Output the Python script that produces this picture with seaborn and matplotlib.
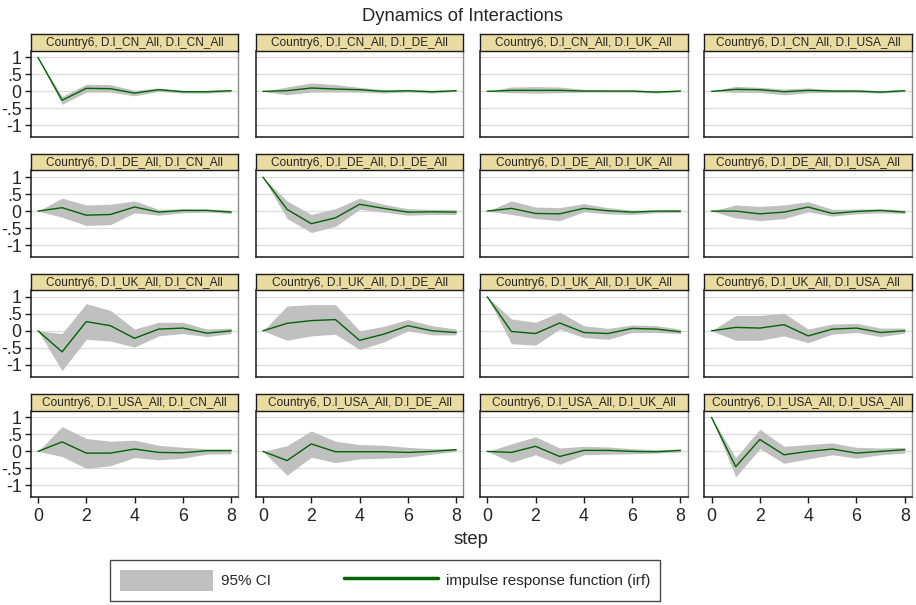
import matplotlib
matplotlib.use("Agg")
import matplotlib.pyplot as plt
from matplotlib.patches import Patch
from matplotlib.lines import Line2D
import numpy as np
import pandas as pd
import seaborn as sns

sns.set_style("white")
plt.rcParams["font.family"] = ["Liberation Sans", "DejaVu Sans"]

# ---- data -----------------------------------------------------------------
steps = [0, 1, 2, 3, 4, 5, 6, 7, 8]
variables = ["D.l_CN_All", "D.l_DE_All", "D.l_UK_All", "D.l_USA_All"]
model = "Country6"

# impulse (row) x response (column), row-major order
irf_values = [
    [1, -0.26, 0.09, 0.08, -0.05, 0.05, -0.01, -0.01, 0.02],
    [0, 0.02, 0.10, 0.07, 0.05, 0.00, 0.02, -0.01, 0.02],
    [0, 0.03, 0.03, 0.03, 0.01, 0.01, 0.01, -0.02, 0.01],
    [0, 0.06, 0.05, -0.01, 0.03, 0.01, 0.01, -0.02, 0.02],
    [0, 0.10, -0.12, -0.10, 0.12, -0.03, 0.02, 0.02, -0.03],
    [1, 0.05, -0.37, -0.20, 0.20, 0.08, -0.03, -0.02, -0.03],
    [0, 0.08, -0.07, -0.08, 0.08, 0.01, -0.03, 0.00, 0.00],
    [0, 0.00, -0.08, -0.03, 0.12, -0.07, -0.01, 0.02, -0.03],
    [0, -0.62, 0.27, 0.15, -0.22, 0.05, 0.08, -0.07, 0.00],
    [0, 0.22, 0.30, 0.33, -0.28, -0.10, 0.15, 0.00, -0.05],
    [1, -0.02, -0.08, 0.23, -0.05, -0.08, 0.07, 0.05, -0.03],
    [0, 0.10, 0.08, 0.18, -0.15, 0.05, 0.08, -0.05, 0.00],
    [0, 0.28, -0.05, -0.05, 0.07, -0.03, -0.04, 0.02, 0.02],
    [0, -0.27, 0.22, -0.01, -0.01, -0.01, -0.03, 0.00, 0.05],
    [0, -0.03, 0.15, -0.15, 0.03, 0.03, 0.00, -0.01, 0.03],
    [1, -0.45, 0.35, -0.10, 0.00, 0.07, -0.05, 0.00, 0.05],
]
ci_lower = [
    [1, -0.38, -0.02, -0.02, -0.13, 0.00, -0.05, -0.05, -0.01],
    [0, -0.10, -0.02, -0.02, -0.02, -0.05, -0.02, -0.05, 0.00],
    [0, -0.04, -0.05, -0.04, -0.02, -0.02, -0.02, -0.05, -0.01],
    [0, -0.03, -0.03, -0.10, -0.04, -0.03, -0.03, -0.05, -0.01],
    [0, -0.18, -0.42, -0.40, -0.05, -0.12, -0.05, -0.03, -0.07],
    [1, -0.22, -0.63, -0.45, 0.05, -0.03, -0.12, -0.10, -0.10],
    [0, -0.10, -0.22, -0.28, -0.02, -0.08, -0.10, -0.05, -0.04],
    [0, -0.20, -0.28, -0.22, -0.02, -0.15, -0.08, -0.05, -0.07],
    [0, -1.17, -0.25, -0.30, -0.48, -0.15, -0.08, -0.17, -0.08],
    [0, -0.28, -0.15, -0.10, -0.55, -0.33, 0.00, -0.12, -0.12],
    [1, -0.38, -0.42, 0.05, -0.20, -0.25, -0.05, -0.05, -0.08],
    [0, -0.28, -0.28, -0.15, -0.35, -0.10, -0.05, -0.17, -0.07],
    [0, -0.15, -0.50, -0.42, -0.18, -0.25, -0.20, -0.08, -0.07],
    [0, -0.70, -0.17, -0.33, -0.22, -0.20, -0.17, -0.08, 0.00],
    [0, -0.32, -0.10, -0.38, -0.10, -0.08, -0.07, -0.05, -0.02],
    [1, -0.75, 0.08, -0.35, -0.22, -0.10, -0.20, -0.10, -0.05],
]
ci_upper = [
    [1, -0.15, 0.21, 0.20, 0.03, 0.10, 0.03, 0.03, 0.05],
    [0, 0.13, 0.25, 0.20, 0.12, 0.05, 0.05, 0.03, 0.04],
    [0, 0.13, 0.14, 0.13, 0.06, 0.04, 0.04, 0.01, 0.03],
    [0, 0.15, 0.12, 0.07, 0.10, 0.05, 0.05, 0.02, 0.05],
    [0, 0.38, 0.18, 0.20, 0.30, 0.05, 0.07, 0.06, 0.03],
    [1, 0.30, -0.10, 0.07, 0.38, 0.20, 0.07, 0.05, 0.05],
    [0, 0.30, 0.12, 0.10, 0.22, 0.10, 0.03, 0.03, 0.04],
    [0, 0.18, 0.14, 0.18, 0.28, 0.05, 0.06, 0.07, 0.03],
    [0, -0.08, 0.80, 0.60, 0.05, 0.25, 0.25, 0.05, 0.08],
    [0, 0.73, 0.77, 0.77, 0.00, 0.13, 0.33, 0.15, 0.05],
    [1, 0.35, 0.25, 0.55, 0.15, 0.07, 0.17, 0.15, 0.05],
    [0, 0.45, 0.45, 0.52, 0.05, 0.20, 0.22, 0.08, 0.08],
    [0, 0.73, 0.38, 0.30, 0.33, 0.18, 0.12, 0.08, 0.08],
    [0, 0.17, 0.60, 0.30, 0.20, 0.18, 0.12, 0.08, 0.08],
    [0, 0.22, 0.43, 0.10, 0.15, 0.13, 0.08, 0.05, 0.07],
    [1, -0.18, 0.65, 0.15, 0.20, 0.25, 0.12, 0.10, 0.12],
]

y_ticks = [1, 0.5, 0, -0.5, -1]
y_tick_labels = ["1", ".5", "0", "-.5", "-1"]
x_ticks = [0, 2, 4, 6, 8]

# long-format table: one row per impulse/response/step
rows = []
for k in range(16):
    imp, res = variables[k // 4], variables[k % 4]
    for s in steps:
        rows.append(dict(impulse=imp, response=res, step=s,
                         irf=irf_values[k][s], lower=ci_lower[k][s],
                         upper=ci_upper[k][s]))
df = pd.DataFrame(rows)

# ---- style ----------------------------------------------------------------
CI_COLOR = "#C0C0C0"
IRF_COLOR = "#006400"
STRIP_COLOR = "#EADBA3"
GRID_COLOR = "#DCDCDC"

W, H = 916, 605
fig = plt.figure(figsize=(W / 100, H / 100), dpi=100)
fig.patch.set_facecolor("white")

col_left = [30.7, 255.7, 480.0, 704.3]
panel_w = 207.7
row_bottom = [137.3, 257.0, 376.7, 497.3]
panel_h = 86.7
strip_h = 16.3


def fig_rect(left, bottom, width, height):
    return [left / W, 1 - bottom / H, width / W, height / H]


for r, imp in enumerate(variables):
    for c, res in enumerate(variables):
        sub = df[(df.impulse == imp) & (df.response == res)]
        ax = fig.add_axes(fig_rect(col_left[c], row_bottom[r], panel_w, panel_h))
        ax.set_facecolor("white")
        for yv in y_ticks:
            ax.axhline(yv, color=GRID_COLOR, lw=0.9, zorder=0)
        ax.fill_between(sub.step, sub.lower, sub.upper, color=CI_COLOR,
                        lw=0, zorder=1)
        sns.lineplot(data=sub, x="step", y="irf", ax=ax, color=IRF_COLOR,
                     lw=1.0, legend=False, zorder=2)
        ax.set_xlim(-0.3, 8.3)
        ax.set_ylim(-1.35, 1.2)
        ax.set_xlabel("")
        ax.set_ylabel("")
        ax.set_yticks(y_ticks)
        ax.set_xticks(x_ticks)
        for side in ("left", "bottom"):
            ax.spines[side].set_color("#1a1a1a")
            ax.spines[side].set_linewidth(1.1)
        ax.spines["right"].set_color("#8c8c8c")
        ax.spines["right"].set_linewidth(1.0)
        ax.spines["top"].set_visible(False)
        if c == 0:
            ax.set_yticklabels(y_tick_labels)
            ax.tick_params(axis="y", length=4.5, width=1, pad=2.0,
                           labelsize=12.8, left=True, color="#1a1a1a")
        else:
            ax.tick_params(axis="y", left=False, labelleft=False)
        if r == 3:
            ax.tick_params(axis="x", length=4.5, width=1, pad=3.0,
                           labelsize=12.8, bottom=True, color="#1a1a1a")
        else:
            ax.tick_params(axis="x", bottom=False, labelbottom=False)

        # header strip above each panel
        sax = fig.add_axes(fig_rect(col_left[c], row_bottom[r] - panel_h,
                                    panel_w, strip_h))
        sax.set_facecolor(STRIP_COLOR)
        sax.set_xticks([])
        sax.set_yticks([])
        for sp in sax.spines.values():
            sp.set_color("#1a1a1a")
            sp.set_linewidth(1.0)
        sax.text(0.5, 0.45, f"{model}, {imp}, {res}", ha="center",
                 va="center", fontsize=8.6, transform=sax.transAxes)

fig.text(462 / W, 1 - 20.7 / H, "Dynamics of Interactions", ha="center",
         va="baseline", fontsize=13.2)
fig.text(471 / W, 1 - 544 / H, "step", ha="center", va="baseline",
         fontsize=13.3)

handles = [Patch(facecolor=CI_COLOR, edgecolor="none"),
           Line2D([0], [0], color=IRF_COLOR, lw=2.5)]
labels = ["95% CI", "impulse response function (irf)"]
leg = fig.legend(handles, labels, loc="center", ncol=2,
                 bbox_to_anchor=(385 / W, 1 - 580.5 / H), fontsize=11,
                 frameon=True, fancybox=False, handlelength=6.1,
                 handleheight=1.75, handletextpad=0.55, columnspacing=4.8,
                 borderpad=0.65)
leg.get_frame().set_edgecolor("#1a1a1a")
leg.get_frame().set_linewidth(1.0)

fig.savefig("out.png", dpi=100, facecolor="white")
